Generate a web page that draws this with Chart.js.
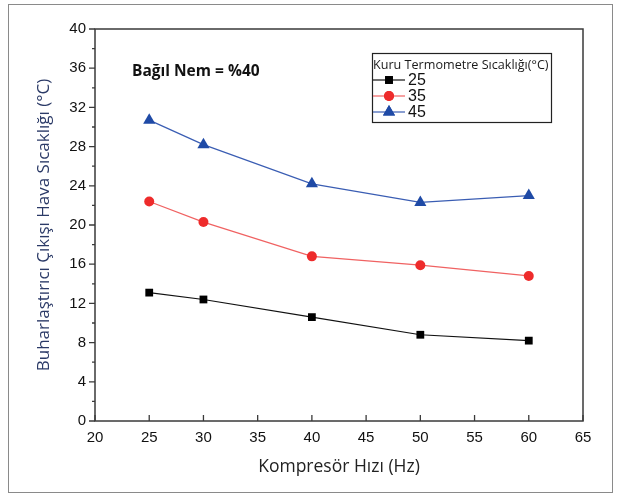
<!DOCTYPE html>
<html>
<head>
<meta charset="utf-8">
<script src="https://cdn.jsdelivr.net/npm/chart.js@4"></script>
<style>
  html, body { margin: 0; padding: 0; background: #fff; }
  #wrap { width: 619px; height: 497px; position: relative; }
</style>
</head>
<body>
<div id="wrap"><canvas id="chart" width="619" height="497"></canvas></div>
<script>
// ─── DATOS ────────────────────────────────────────────
const hz = [25, 30, 40, 50, 60];
const t25 = [13.1, 12.4, 10.6, 8.8, 8.2];
const t35 = [22.4, 20.3, 16.8, 15.9, 14.8];
const t45 = [30.7, 28.2, 24.2, 22.3, 23.0];
const seriesLabels = ['25', '35', '45'];
const xTicks = [20, 25, 30, 35, 40, 45, 50, 55, 60, 65];
const yMajor = [0, 4, 8, 12, 16, 20, 24, 28, 32, 36, 40];
const yMinor = [2, 6, 10, 14, 18, 22, 26, 30, 34, 38];

const axisColor = '#3a3a3a';
const styles = [
    { line: '#111111', point: '#000000', shape: 'rect', r: 5.5 },
    { line: '#f06262', point: '#ee2b2b', shape: 'circle', r: 5 },
    { line: '#3a5db3', point: '#1f4aa6', shape: 'triangle', r: 7 }
];

const toXY = vals => hz.map((x, i) => ({ x: x, y: vals[i] }));

// ─── EJES, MARCO Y LEYENDA ────────────────────────────
const framePlugin = {
    id: 'frame',
    afterDraw(chart) {
        const ctx = chart.ctx;
        const a = chart.chartArea;
        const xs = chart.scales.x, ys = chart.scales.y;
        ctx.save();
        // marco exterior
        ctx.strokeStyle = '#8a8a8a';
        ctx.lineWidth = 1;
        ctx.strokeRect(8.5, 4.5, 604, 488);
        // caja del gráfico
        ctx.strokeStyle = axisColor;
        ctx.lineWidth = 1.5;
        ctx.strokeRect(a.left, a.top, a.right - a.left, a.bottom - a.top);
        // ticks
        ctx.lineWidth = 1.3;
        ctx.beginPath();
        xTicks.forEach(v => {
            const px = xs.getPixelForValue(v);
            ctx.moveTo(px, a.bottom);
            ctx.lineTo(px, a.bottom - 6);
        });
        yMajor.forEach(v => {
            const py = ys.getPixelForValue(v);
            ctx.moveTo(a.left, py);
            ctx.lineTo(a.left - 6, py);
        });
        yMinor.forEach(v => {
            const py = ys.getPixelForValue(v);
            ctx.moveTo(a.left, py);
            ctx.lineTo(a.left - 3, py);
        });
        ctx.stroke();

        // nota
        ctx.fillStyle = '#111';
        ctx.font = 'bold 15.5px "Open Sans"';
        ctx.textBaseline = 'middle';
        ctx.textAlign = 'left';
        ctx.fillText('Bağıl Nem = %40', 132, 72);

        // leyenda
        const bx = 372, by = 53, bw = 179, bh = 69;
        ctx.strokeStyle = '#222';
        ctx.lineWidth = 1.2;
        ctx.strokeRect(bx + 0.5, by + 0.5, bw, bh);
        ctx.fillStyle = '#1a1a1a';
        ctx.font = '12.6px "Open Sans"';
        ctx.fillText('Kuru Termometre Sıcaklığı(°C)', bx + 1, by + 12);
        const rowY = [80, 96, 112];
        styles.forEach((s, i) => {
            ctx.strokeStyle = s.line;
            ctx.lineWidth = 1.2;
            ctx.beginPath();
            ctx.moveTo(bx + 1, rowY[i]);
            ctx.lineTo(bx + 33, rowY[i]);
            ctx.stroke();
            ctx.fillStyle = s.point;
            Chart.helpers.drawPoint(ctx, { pointStyle: s.shape, radius: s.r, rotation: 0, borderWidth: 0 }, bx + 17, rowY[i]);
            ctx.fill();
            ctx.fillStyle = '#111';
            ctx.font = '16px "Liberation Sans"';
            ctx.fillText(seriesLabels[i], bx + 36, rowY[i] + 1);
        });
        ctx.restore();
    }
};

const datasets = [t25, t35, t45].map((vals, i) => ({
    label: seriesLabels[i],
    data: toXY(vals),
    borderColor: styles[i].line,
    borderWidth: 1.2,
    backgroundColor: styles[i].point,
    pointBackgroundColor: styles[i].point,
    pointBorderColor: styles[i].point,
    pointBorderWidth: 0,
    pointStyle: styles[i].shape,
    pointRadius: styles[i].r,
    pointHoverRadius: styles[i].r,
    tension: 0
}));

new Chart(document.getElementById('chart'), {
    type: 'line',
    data: { datasets: datasets },
    options: {
        responsive: false,
        animation: false,
        layout: { padding: { left: 0, right: 36, top: 29, bottom: 0 } },
        plugins: { legend: { display: false }, tooltip: { enabled: false } },
        scales: {
            x: {
                type: 'linear',
                min: 20, max: 65,
                grid: { display: false, drawTicks: false },
                border: { display: false },
                ticks: { stepSize: 5, padding: 8, color: '#111', font: { family: '"Liberation Sans"', size: 15 } },
                title: {
                    display: true,
                    text: 'Kompresör Hızı (Hz)',
                    color: '#222',
                    font: { family: '"Open Sans"', size: 17.5 },
                    padding: { top: 0, bottom: 19 }
                },
                afterFit(scale) { scale.height = 76; }
            },
            y: {
                min: 0, max: 40,
                grid: { display: false, drawTicks: false },
                border: { display: false },
                ticks: { stepSize: 4, padding: 9, color: '#111', font: { family: '"Liberation Sans"', size: 15 } },
                title: {
                    display: true,
                    text: 'Buharlaştırıcı Çıkışı Hava Sıcaklığı (°C)',
                    color: '#2b3a67',
                    font: { family: '"Open Sans"', size: 17 },
                    padding: { top: 34, bottom: 0 }
                },
                afterFit(scale) { scale.width = 95; }
            }
        }
    },
    plugins: [framePlugin]
});
</script>
</body>
</html>
